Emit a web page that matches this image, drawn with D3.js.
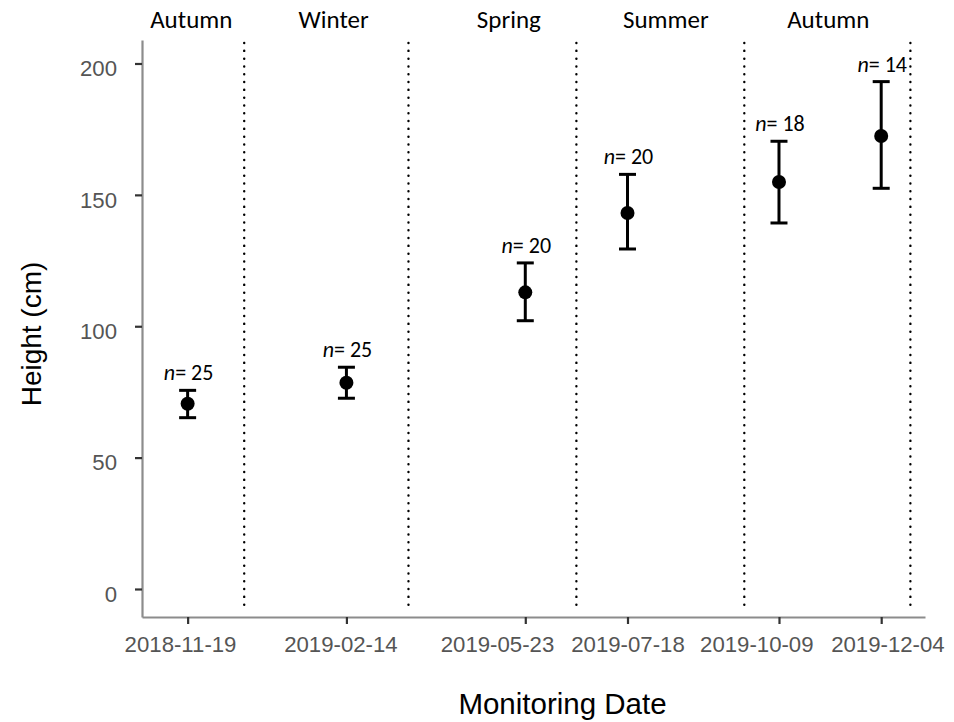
<!DOCTYPE html>
<html>
<head>
<meta charset="utf-8">
<script src="https://cdn.jsdelivr.net/npm/d3@7"></script>
<style>
  html, body { margin: 0; padding: 0; background: #fff; }
  svg { display: block; }
</style>
</head>
<body>
<svg id="chart" width="954" height="722"></svg>
<script>
// ---- data ----
const dates = ["2018-11-19", "2019-02-14", "2019-05-23", "2019-07-18", "2019-10-09", "2019-12-04"];
const means = [70.5, 78.5, 112.9, 143.1, 154.9, 172.4];
const lower = [65.2, 72.6, 102.1, 129.4, 139.3, 152.5];
const upper = [75.6, 84.4, 124.1, 157.8, 170.4, 193.1];
const nValues = [25, 25, 20, 20, 18, 14];
const seasonBoundaries = ["2018-12-20", "2019-03-20", "2019-06-20", "2019-09-20", "2019-12-20"];
const seasonLabels = ["Autumn", "Winter", "Spring", "Summer", "Autumn"];
const seasonLabelDates = ["2018-11-21", "2019-02-07", "2019-05-14", "2019-08-08", "2019-11-05"];
const yTicks = [0, 50, 100, 150, 200];
const xDomain = ["2018-10-25", "2019-12-28"];
const yDomain = [-10.66, 208.94];

(function () {
const parse = d3.utcParse("%Y-%m-%d");
const fmt = d3.utcFormat("%Y-%m-%d");

const svg = d3.select("#chart");
const mLeft = 142, mRight = 925, mTop = 40, mBottom = 617;
// horizontal nudges of the date labels (avoid overlap, as in the original)
const labelNudge = [-7.6, -6, -28.3, 0, -22.7, 6.2];

const x = d3.scaleUtc().domain(xDomain.map(parse)).range([mLeft, mRight]);
const y = d3.scaleLinear().domain(yDomain).range([mBottom, mTop]);

const tickFont = "'Liberation Sans', Arial, sans-serif";
const labelFont = "'Carlito', 'Open Sans', sans-serif";

// season boundaries (dotted)
svg.append("g").selectAll("line").data(seasonBoundaries).join("line")
  .attr("x1", d => x(parse(d))).attr("x2", d => x(parse(d)))
  .attr("y1", y(yDomain[1]) + 3).attr("y2", y(yDomain[0]) - 9)
  .attr("stroke", "#000").attr("stroke-width", 2.4)
  .attr("stroke-linecap", "round")
  .attr("stroke-dasharray", "0.1,7.7");

// season labels
svg.append("g").selectAll("text").data(seasonLabels).join("text")
  .attr("x", (d, i) => x(parse(seasonLabelDates[i])))
  .attr("y", 27.5)
  .attr("text-anchor", "middle")
  .attr("font-family", labelFont)
  .attr("font-size", 25)
  .attr("fill", "#000")
  .text(d => d);

// axes
const yAxis = d3.axisLeft(y).tickValues(yTicks).tickSize(7).tickSizeOuter(0).tickPadding(18);
const xAxis = d3.axisBottom(x).tickValues(dates.map(parse)).tickFormat(fmt).tickSize(7).tickSizeOuter(0).tickPadding(12);

const gy = svg.append("g").attr("transform", `translate(${mLeft},0)`).call(yAxis);
const gx = svg.append("g").attr("transform", `translate(0,${mBottom})`).call(xAxis);

[gx, gy].forEach(g => {
  g.select(".domain").attr("stroke", "#8c8c8c").attr("stroke-width", 2.2);
  g.selectAll(".tick line").attr("stroke", "#333").attr("stroke-width", 2.2);
  g.selectAll(".tick text").attr("font-family", tickFont).attr("font-size", 22.2).attr("fill", "#555");
});
gy.selectAll(".tick text").attr("dy", "0.55em");
gx.selectAll(".tick text").attr("dx", (d, i) => labelNudge[i]);

// axis titles
svg.append("text")
  .attr("x", (mLeft + mRight) / 2 + 29).attr("y", 714)
  .attr("text-anchor", "middle")
  .attr("font-family", tickFont).attr("font-size", 29.5)
  .attr("fill", "#000")
  .text("Monitoring Date");

svg.append("text")
  .attr("transform", `translate(41,334) rotate(-90)`)
  .attr("text-anchor", "middle")
  .attr("font-family", tickFont).attr("font-size", 28)
  .attr("fill", "#000")
  .text("Height (cm)");

// error bars
const pts = dates.map((d, i) => ({ date: parse(d), mean: means[i], lo: lower[i], hi: upper[i], n: nValues[i] }));
const eg = svg.append("g");
eg.selectAll("line.v").data(pts).join("line").attr("class", "v")
  .attr("x1", d => x(d.date)).attr("x2", d => x(d.date))
  .attr("y1", d => y(d.lo)).attr("y2", d => y(d.hi))
  .attr("stroke", "#000").attr("stroke-width", 3);
eg.selectAll("line.capT").data(pts).join("line").attr("class", "capT")
  .attr("x1", d => x(d.date) - 8.5).attr("x2", d => x(d.date) + 8.5)
  .attr("y1", d => y(d.hi)).attr("y2", d => y(d.hi))
  .attr("stroke", "#000").attr("stroke-width", 3);
eg.selectAll("line.capB").data(pts).join("line").attr("class", "capB")
  .attr("x1", d => x(d.date) - 8.5).attr("x2", d => x(d.date) + 8.5)
  .attr("y1", d => y(d.lo)).attr("y2", d => y(d.lo))
  .attr("stroke", "#000").attr("stroke-width", 3);
eg.selectAll("circle").data(pts).join("circle")
  .attr("cx", d => x(d.date)).attr("cy", d => y(d.mean)).attr("r", 7)
  .attr("fill", "#000");

// n labels
const nl = svg.append("g").selectAll("text").data(pts).join("text")
  .attr("x", d => x(d.date) + 1)
  .attr("y", d => y(d.hi) - 10)
  .attr("text-anchor", "middle")
  .attr("font-family", labelFont)
  .attr("font-size", 22)
  .attr("fill", "#000");
nl.append("tspan").attr("font-style", "italic").text("n");
nl.append("tspan").text(d => "= " + d.n);
})();
</script>
</body>
</html>
